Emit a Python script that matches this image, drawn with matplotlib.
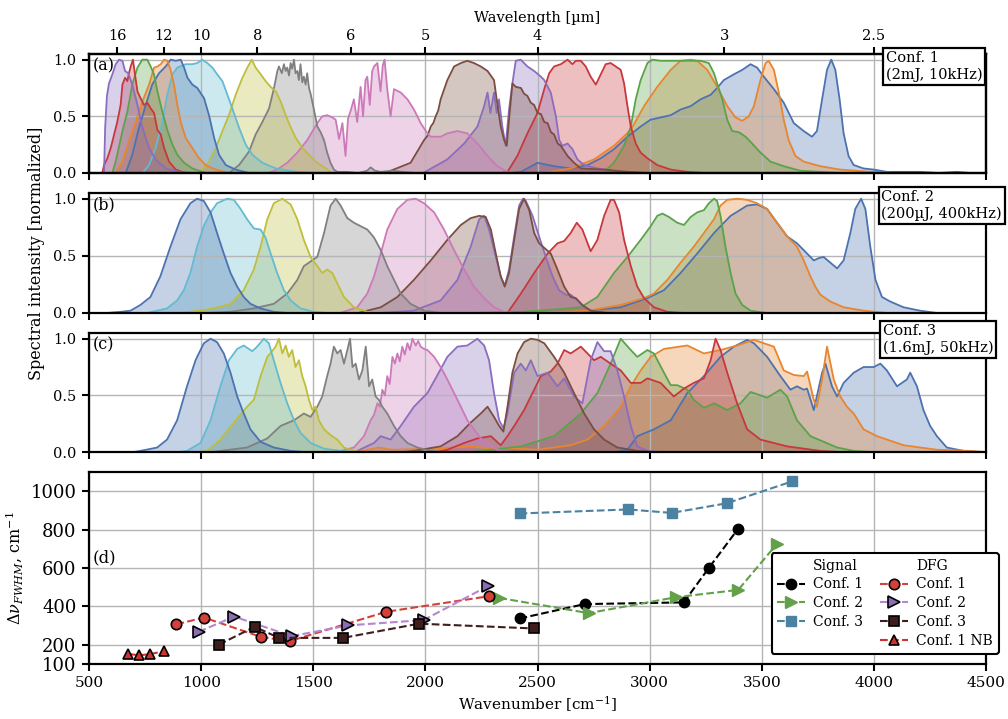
import matplotlib
matplotlib.use('Agg')
import matplotlib.pyplot as plt
from matplotlib.lines import Line2D

plt.rcParams['font.family'] = ['DejaVu Serif']
plt.rcParams['mathtext.fontset'] = 'dejavuserif'

# ---------------- Panel (a): Conf. 1 spectra (wavenumber, normalized intensity) -------------
a01_x = [2380, 2426, 2500, 2574, 2648, 2723, 2782, 2841, 2901, 2960, 3004, 3049, 3094, 3138, 3183, 3227, 3272, 3301, 3331, 3375, 3413, 3450, 3479, 3509, 3554, 3598, 3643, 3687, 3724, 3746, 3769, 3791, 3810, 3828, 3847, 3865, 3887, 3910, 3954, 3999, 4058, 4130, 4206, 4290, 4370, 4430, 4500]
a01_y = [0.0, 0.01, 0.09, 0.06, 0.04, 0.07, 0.13, 0.21, 0.32, 0.41, 0.47, 0.49, 0.51, 0.56, 0.59, 0.65, 0.69, 0.75, 0.82, 0.87, 0.91, 0.96, 0.93, 0.85, 0.74, 0.62, 0.44, 0.37, 0.32, 0.37, 0.65, 0.91, 1.0, 0.91, 0.65, 0.35, 0.15, 0.07, 0.04, 0.03, 0.01, 0.01, 0.01, 0.0, 0.01, 0.0, 0.0]
a02_x = [2500, 2559, 2648, 2752, 2841, 2916, 2975, 3034, 3094, 3138, 3183, 3212, 3257, 3301, 3346, 3383, 3413, 3442, 3465, 3494, 3517, 3531, 3554, 3576, 3598, 3620, 3650, 3687, 3761, 3850, 3984, 4100]
a02_y = [0.0, 0.01, 0.04, 0.12, 0.24, 0.38, 0.59, 0.76, 0.91, 0.99, 1.0, 0.99, 0.91, 0.76, 0.59, 0.49, 0.46, 0.5, 0.59, 0.82, 0.97, 0.99, 0.91, 0.71, 0.47, 0.29, 0.15, 0.1, 0.06, 0.03, 0.01, 0.0]
a03_x = [2760, 2797, 2841, 2886, 2916, 2938, 2960, 2990, 3012, 3049, 3094, 3138, 3183, 3227, 3264, 3287, 3301, 3324, 3346, 3368, 3398, 3428, 3457, 3494, 3539, 3598, 3672, 3761, 3850]
a03_y = [0.0, 0.01, 0.09, 0.24, 0.41, 0.65, 0.82, 0.97, 1.0, 0.99, 0.99, 0.99, 0.99, 0.99, 0.97, 0.88, 0.79, 0.65, 0.47, 0.37, 0.36, 0.32, 0.26, 0.18, 0.1, 0.06, 0.02, 0.01, 0.0]
a04_x = [2340, 2366, 2410, 2455, 2500, 2530, 2552, 2574, 2604, 2634, 2656, 2671, 2693, 2715, 2737, 2760, 2782, 2804, 2826, 2849, 2871, 2886, 2901, 2916, 2938, 2960, 2990, 3034, 3094, 3168, 3250]
a04_y = [0.0, 0.01, 0.15, 0.35, 0.53, 0.74, 0.88, 0.94, 0.96, 1.0, 0.96, 0.99, 0.99, 0.94, 0.85, 0.78, 0.87, 0.96, 0.97, 0.94, 0.91, 0.79, 0.59, 0.41, 0.26, 0.18, 0.13, 0.07, 0.03, 0.01, 0.0]
a05_x = [1990, 2098, 2173, 2232, 2262, 2277, 2290, 2306, 2318, 2328, 2343, 2358, 2373, 2388, 2403, 2425, 2455, 2485, 2515, 2530, 2559, 2582, 2597, 2611, 2634, 2656, 2678, 2708, 2767, 2871, 2950]
a05_y = [0.0, 0.12, 0.26, 0.41, 0.59, 0.71, 0.53, 0.71, 0.53, 0.65, 0.41, 0.24, 0.56, 0.79, 0.99, 1.0, 0.94, 0.9, 0.85, 0.82, 0.71, 0.5, 0.29, 0.24, 0.26, 0.21, 0.12, 0.07, 0.04, 0.01, 0.0]
a06_x = [1820, 1934, 1994, 2010, 2024, 2035, 2046, 2057, 2068, 2098, 2128, 2158, 2187, 2217, 2247, 2277, 2306, 2318, 2336, 2351, 2363, 2373, 2388, 2403, 2426, 2440, 2455, 2470, 2485, 2500, 2515, 2530, 2545, 2560, 2574, 2590, 2604, 2634, 2663, 2693, 2797, 2901, 2990]
a06_y = [0.0, 0.09, 0.29, 0.33, 0.41, 0.44, 0.5, 0.55, 0.65, 0.82, 0.94, 0.97, 0.99, 0.97, 0.94, 0.9, 0.82, 0.65, 0.41, 0.29, 0.24, 0.47, 0.79, 0.76, 0.75, 0.7, 0.68, 0.62, 0.6, 0.53, 0.52, 0.45, 0.44, 0.36, 0.34, 0.26, 0.24, 0.15, 0.09, 0.04, 0.03, 0.01, 0.0]
a07_x = [1300, 1339, 1384, 1429, 1473, 1500, 1518, 1540, 1562, 1585, 1600, 1615, 1630, 1644, 1655, 1667, 1681, 1696, 1711, 1722, 1733, 1741, 1752, 1763, 1771, 1786, 1800, 1810, 1818, 1830, 1845, 1860, 1890, 1920, 1949, 1979, 2009, 2024, 2068, 2098, 2143, 2187, 2232, 2277, 2321, 2366, 2420]
a07_y = [0.0, 0.03, 0.09, 0.18, 0.29, 0.38, 0.44, 0.5, 0.51, 0.49, 0.47, 0.3, 0.44, 0.15, 0.48, 0.55, 0.65, 0.45, 0.76, 0.5, 0.82, 0.85, 0.6, 0.9, 0.94, 0.97, 0.72, 0.95, 1.0, 0.74, 0.5, 0.74, 0.71, 0.65, 0.56, 0.44, 0.35, 0.32, 0.32, 0.35, 0.37, 0.35, 0.26, 0.15, 0.06, 0.01, 0.0]
a08_x = [1100, 1124, 1169, 1214, 1243, 1273, 1303, 1325, 1340, 1347, 1360, 1369, 1377, 1384, 1392, 1399, 1406, 1414, 1421, 1429, 1436, 1443, 1451, 1458, 1466, 1473, 1481, 1488, 1503, 1518, 1533, 1548, 1562, 1577, 1592, 1607, 1650, 1700, 1740, 1756, 1775, 1800, 1850, 1900, 1950]
a08_y = [0.0, 0.0, 0.07, 0.19, 0.34, 0.45, 0.57, 0.75, 0.9, 0.94, 0.88, 0.96, 0.9, 0.93, 0.86, 0.97, 0.92, 1.0, 0.88, 0.9, 0.82, 0.96, 0.8, 0.85, 0.78, 0.88, 0.75, 0.7, 0.56, 0.41, 0.36, 0.29, 0.18, 0.09, 0.03, 0.01, 0.01, 0.0, 0.02, 0.05, 0.02, 0.01, 0.02, 0.01, 0.0]
a09_x = [960, 991, 1035, 1065, 1095, 1124, 1154, 1184, 1206, 1226, 1243, 1266, 1288, 1310, 1333, 1355, 1377, 1400, 1422, 1452, 1481, 1511, 1541, 1577, 1600]
a09_y = [0.0, 0.0, 0.1, 0.22, 0.37, 0.51, 0.69, 0.84, 0.93, 1.0, 0.93, 0.87, 0.81, 0.76, 0.72, 0.63, 0.51, 0.4, 0.31, 0.22, 0.16, 0.1, 0.06, 0.01, 0.0]
a10_x = [720, 738, 768, 797, 827, 849, 872, 894, 931, 961, 983, 1005, 1028, 1050, 1072, 1095, 1117, 1139, 1169, 1199, 1229, 1273, 1333, 1422, 1500]
a10_y = [0.0, 0.0, 0.07, 0.22, 0.45, 0.69, 0.87, 0.93, 0.96, 0.96, 0.97, 1.0, 0.97, 0.93, 0.87, 0.81, 0.69, 0.57, 0.4, 0.25, 0.16, 0.09, 0.04, 0.01, 0.0]
a11_x = [650, 664, 693, 723, 753, 782, 812, 842, 864, 887, 909, 924, 939, 961, 983, 1013, 1035, 1058, 1080, 1110, 1154, 1214, 1280]
a11_y = [0.0, 0.0, 0.16, 0.4, 0.6, 0.78, 0.88, 0.94, 1.0, 0.99, 1.0, 0.93, 0.84, 0.78, 0.75, 0.66, 0.51, 0.31, 0.16, 0.07, 0.03, 0.0, 0.0]
a12_x = [600, 619, 649, 678, 708, 738, 768, 790, 805, 820, 835, 849, 864, 879, 894, 909, 931, 961, 991, 1020, 1065, 1124, 1180]
a12_y = [0.0, 0.0, 0.1, 0.28, 0.45, 0.63, 0.78, 0.93, 0.94, 0.96, 1.0, 0.99, 0.91, 0.78, 0.6, 0.45, 0.31, 0.22, 0.13, 0.07, 0.03, 0.0, 0.0]
a13_x = [590, 604, 619, 649, 671, 693, 716, 738, 760, 775, 790, 805, 827, 849, 872, 894, 924, 961, 1020, 1080]
a13_y = [0.0, 0.0, 0.1, 0.37, 0.54, 0.78, 0.93, 1.0, 1.0, 0.94, 0.87, 0.72, 0.54, 0.38, 0.25, 0.16, 0.09, 0.04, 0.0, 0.0]
a14_x = [550, 559, 567, 582, 597, 612, 626, 641, 649, 661, 671, 678, 686, 696, 705, 716, 730, 745, 760, 775, 790, 805, 820, 835, 857, 887, 931]
a14_y = [0.0, 0.0, 0.07, 0.13, 0.22, 0.34, 0.45, 0.6, 0.78, 0.84, 0.81, 0.88, 0.94, 1.0, 0.87, 0.72, 0.66, 0.6, 0.62, 0.57, 0.53, 0.38, 0.34, 0.22, 0.1, 0.03, 0.0]
a15_x = [560, 567, 572, 580, 589, 604, 619, 634, 649, 661, 675, 693, 716, 738, 768, 797, 842, 901, 960]
a15_y = [0.0, 0.0, 0.4, 0.68, 0.79, 0.87, 0.96, 1.0, 0.99, 0.9, 0.88, 0.78, 0.6, 0.4, 0.22, 0.12, 0.04, 0.01, 0.0]

# ---------------- Panel (b): Conf. 2 spectra -------------
b01_x = [2426, 2723, 2871, 2990, 3064, 3138, 3212, 3287, 3361, 3435, 3479, 3524, 3568, 3613, 3657, 3702, 3732, 3754, 3776, 3806, 3836, 3865, 3895, 3917, 3943, 3962, 3984, 4007, 4036, 4073, 4132, 4206, 4281]
b01_y = [0.0, 0.02, 0.05, 0.13, 0.2, 0.35, 0.52, 0.7, 0.85, 0.94, 0.95, 0.91, 0.79, 0.67, 0.61, 0.52, 0.46, 0.48, 0.49, 0.44, 0.39, 0.46, 0.7, 0.91, 1.0, 0.91, 0.58, 0.29, 0.14, 0.1, 0.05, 0.02, 0.0]
b02_x = [2426, 2723, 2871, 2975, 3019, 3079, 3138, 3197, 3242, 3287, 3316, 3346, 3390, 3435, 3479, 3524, 3568, 3613, 3657, 3687, 3717, 3739, 3761, 3806, 3865, 3954, 4058]
b02_y = [0.0, 0.02, 0.07, 0.13, 0.17, 0.29, 0.44, 0.58, 0.7, 0.82, 0.94, 0.99, 1.0, 0.99, 0.96, 0.91, 0.79, 0.67, 0.58, 0.46, 0.32, 0.23, 0.16, 0.1, 0.05, 0.02, 0.0]
b03_x = [2200, 2426, 2574, 2693, 2767, 2841, 2901, 2960, 3005, 3034, 3057, 3086, 3123, 3153, 3183, 3212, 3242, 3264, 3287, 3301, 3316, 3338, 3361, 3383, 3413, 3450, 3524]
b03_y = [0.0, 0.01, 0.03, 0.05, 0.14, 0.35, 0.49, 0.64, 0.76, 0.85, 0.87, 0.84, 0.79, 0.77, 0.84, 0.88, 0.9, 0.96, 1.0, 0.98, 0.85, 0.58, 0.35, 0.17, 0.07, 0.02, 0.0]
b04_x = [2340, 2366, 2426, 2485, 2545, 2589, 2619, 2648, 2675, 2700, 2737, 2767, 2797, 2826, 2841, 2864, 2886, 2916, 2945, 2975, 3019, 3079, 3150]
b04_y = [0.0, 0.0, 0.17, 0.35, 0.52, 0.61, 0.63, 0.7, 0.79, 0.73, 0.54, 0.64, 0.85, 0.99, 0.99, 0.88, 0.64, 0.41, 0.23, 0.13, 0.05, 0.01, 0.0]
b05_x = [1801, 1949, 2068, 2143, 2202, 2240, 2262, 2284, 2314, 2336, 2354, 2373, 2396, 2418, 2435, 2448, 2478, 2507, 2537, 2567, 2596, 2626, 2648, 2678, 2708, 2752, 2800]
b05_y = [0.0, 0.02, 0.11, 0.29, 0.58, 0.82, 0.85, 0.73, 0.49, 0.32, 0.24, 0.38, 0.67, 0.94, 1.0, 0.98, 0.85, 0.67, 0.49, 0.32, 0.2, 0.16, 0.16, 0.11, 0.05, 0.01, 0.0]
b06_x = [1700, 1801, 1875, 1949, 2024, 2098, 2158, 2202, 2240, 2269, 2292, 2314, 2336, 2354, 2373, 2396, 2418, 2440, 2463, 2485, 2507, 2530, 2559, 2589, 2619, 2648, 2671, 2700, 2737, 2812]
b06_y = [0.0, 0.05, 0.14, 0.29, 0.46, 0.64, 0.77, 0.83, 0.85, 0.84, 0.73, 0.52, 0.32, 0.23, 0.35, 0.64, 0.91, 1.0, 0.9, 0.7, 0.61, 0.57, 0.52, 0.38, 0.23, 0.14, 0.13, 0.07, 0.02, 0.0]
b07_x = [1620, 1696, 1741, 1771, 1801, 1830, 1875, 1920, 1957, 1994, 2039, 2083, 2128, 2173, 2217, 2262, 2306, 2351, 2400]
b07_y = [0.0, 0.05, 0.17, 0.32, 0.52, 0.73, 0.91, 0.99, 1.0, 0.96, 0.88, 0.73, 0.55, 0.38, 0.23, 0.13, 0.05, 0.01, 0.0]
b08_x = [1027, 1131, 1235, 1324, 1384, 1429, 1458, 1488, 1518, 1548, 1577, 1600, 1622, 1652, 1681, 1711, 1741, 1771, 1801, 1830, 1860, 1890, 1934, 1994, 2068]
b08_y = [0.0, 0.01, 0.04, 0.08, 0.17, 0.29, 0.41, 0.45, 0.49, 0.7, 0.94, 1.0, 0.94, 0.83, 0.79, 0.76, 0.73, 0.66, 0.55, 0.41, 0.29, 0.17, 0.08, 0.02, 0.0]
b09_x = [900, 952, 1057, 1131, 1190, 1235, 1265, 1295, 1324, 1362, 1399, 1429, 1458, 1488, 1518, 1540, 1562, 1585, 1607, 1637, 1681, 1741, 1830]
b09_y = [0.0, 0.01, 0.04, 0.08, 0.2, 0.38, 0.58, 0.82, 0.96, 1.0, 0.95, 0.82, 0.64, 0.49, 0.41, 0.35, 0.38, 0.35, 0.26, 0.14, 0.05, 0.01, 0.0]
b10_x = [759, 848, 893, 923, 952, 982, 1012, 1042, 1071, 1116, 1146, 1176, 1205, 1235, 1265, 1287, 1310, 1339, 1369, 1399, 1443, 1503, 1562]
b10_y = [0.0, 0.04, 0.11, 0.2, 0.35, 0.58, 0.76, 0.88, 0.96, 1.0, 0.99, 0.91, 0.82, 0.74, 0.73, 0.66, 0.52, 0.35, 0.2, 0.11, 0.04, 0.01, 0.0]
b11_x = [580, 640, 685, 729, 774, 818, 863, 908, 952, 982, 1012, 1042, 1071, 1101, 1131, 1161, 1190, 1220, 1265, 1324, 1384]
b11_y = [0.0, 0.01, 0.02, 0.07, 0.14, 0.32, 0.58, 0.82, 0.96, 1.0, 0.98, 0.88, 0.7, 0.52, 0.35, 0.23, 0.14, 0.08, 0.04, 0.01, 0.0]

# ---------------- Panel (c): Conf. 3 spectra -------------
c01_x = [2850, 2901, 2945, 3019, 3094, 3168, 3242, 3316, 3376, 3435, 3465, 3524, 3583, 3628, 3657, 3687, 3702, 3732, 3769, 3784, 3813, 3836, 3865, 3910, 3954, 3999, 4029, 4058, 4103, 4147, 4162, 4192, 4221, 4251, 4281, 4325, 4400, 4460]
c01_y = [0.0, 0.02, 0.14, 0.2, 0.28, 0.52, 0.67, 0.84, 0.93, 0.99, 0.96, 0.84, 0.67, 0.55, 0.58, 0.55, 0.56, 0.37, 0.7, 0.78, 0.58, 0.49, 0.61, 0.7, 0.75, 0.75, 0.78, 0.72, 0.58, 0.64, 0.7, 0.58, 0.37, 0.23, 0.14, 0.04, 0.01, 0.0]
c02_x = [1700, 1790, 1850, 2050, 2200, 2300, 2400, 2500, 2648, 2723, 2797, 2871, 2916, 2960, 3005, 3064, 3168, 3242, 3316, 3390, 3465, 3494, 3554, 3598, 3643, 3687, 3702, 3732, 3746, 3769, 3791, 3821, 3850, 3880, 3910, 3954, 4014, 4132, 4281, 4429, 4500]
c02_y = [0.0, 0.04, 0.02, 0.03, 0.05, 0.03, 0.03, 0.02, 0.06, 0.11, 0.23, 0.4, 0.58, 0.72, 0.84, 0.91, 0.94, 0.87, 0.9, 0.94, 0.99, 0.97, 0.93, 0.72, 0.68, 0.67, 0.71, 0.46, 0.4, 0.64, 0.93, 0.64, 0.49, 0.4, 0.34, 0.2, 0.14, 0.06, 0.02, 0.01, 0.0]
c03_x = [2200, 2426, 2574, 2693, 2767, 2826, 2871, 2916, 2945, 2990, 3019, 3064, 3094, 3123, 3168, 3197, 3242, 3287, 3346, 3405, 3450, 3524, 3583, 3613, 3657, 3717, 3836, 3910, 3990]
c03_y = [0.0, 0.05, 0.14, 0.34, 0.52, 0.78, 1.0, 0.9, 0.84, 0.9, 0.87, 0.7, 0.59, 0.59, 0.55, 0.46, 0.39, 0.43, 0.37, 0.43, 0.53, 0.48, 0.55, 0.49, 0.28, 0.14, 0.04, 0.01, 0.0]
c04_x = [2050, 2098, 2173, 2232, 2292, 2336, 2366, 2396, 2440, 2470, 2515, 2559, 2589, 2619, 2648, 2693, 2723, 2752, 2782, 2826, 2871, 2916, 2960, 2990, 3049, 3108, 3153, 3197, 3242, 3272, 3294, 3316, 3346, 3390, 3435, 3494, 3613, 3761, 3850]
c04_y = [0.0, 0.02, 0.08, 0.12, 0.14, 0.06, 0.14, 0.23, 0.37, 0.49, 0.67, 0.71, 0.78, 0.9, 0.87, 0.93, 0.87, 0.81, 0.84, 0.78, 0.72, 0.61, 0.61, 0.65, 0.61, 0.49, 0.56, 0.61, 0.65, 0.81, 1.0, 0.9, 0.7, 0.43, 0.2, 0.11, 0.05, 0.01, 0.0]
c05_x = [1650, 1696, 1771, 1801, 1845, 1890, 1949, 2009, 2054, 2098, 2143, 2187, 2232, 2262, 2284, 2306, 2329, 2348, 2366, 2396, 2425, 2448, 2470, 2500, 2545, 2589, 2619, 2663, 2700, 2737, 2767, 2797, 2826, 2856, 2886, 2916, 2945, 2990, 3050]
c05_y = [0.0, 0.01, 0.08, 0.14, 0.11, 0.23, 0.4, 0.52, 0.68, 0.84, 0.93, 0.94, 1.0, 0.94, 0.81, 0.52, 0.28, 0.21, 0.34, 0.7, 0.78, 0.72, 0.81, 0.67, 0.7, 0.58, 0.65, 0.49, 0.43, 0.81, 0.97, 0.89, 0.89, 0.72, 0.49, 0.23, 0.05, 0.01, 0.0]
c06_x = [1900, 1949, 2068, 2143, 2202, 2247, 2277, 2306, 2329, 2348, 2366, 2388, 2411, 2440, 2470, 2500, 2530, 2574, 2619, 2663, 2708, 2752, 2797, 2856, 2945, 3020]
c06_y = [0.0, 0.01, 0.05, 0.14, 0.26, 0.34, 0.4, 0.31, 0.23, 0.18, 0.4, 0.7, 0.87, 0.97, 1.0, 0.99, 0.96, 0.84, 0.7, 0.52, 0.34, 0.2, 0.11, 0.04, 0.01, 0.0]
c07_x = [1600, 1622, 1681, 1726, 1756, 1771, 1786, 1797, 1808, 1819, 1830, 1841, 1853, 1864, 1875, 1886, 1897, 1908, 1920, 1931, 1942, 1957, 1968, 1979, 1994, 2009, 2039, 2068, 2098, 2128, 2158, 2187, 2217, 2247, 2292, 2336, 2400]
c07_y = [0.0, 0.01, 0.04, 0.14, 0.28, 0.33, 0.43, 0.4, 0.55, 0.5, 0.67, 0.6, 0.84, 0.78, 0.87, 0.8, 0.93, 0.86, 0.96, 0.9, 1.0, 0.94, 0.98, 0.93, 0.91, 0.9, 0.84, 0.75, 0.64, 0.52, 0.4, 0.28, 0.2, 0.12, 0.05, 0.01, 0.0]
c08_x = [1050, 1086, 1205, 1295, 1354, 1414, 1458, 1488, 1518, 1540, 1562, 1577, 1592, 1607, 1622, 1637, 1652, 1664, 1675, 1689, 1704, 1719, 1734, 1749, 1763, 1778, 1793, 1808, 1830, 1860, 1890, 1920, 1964, 2024, 2080]
c08_y = [0.0, 0.01, 0.04, 0.12, 0.23, 0.28, 0.34, 0.31, 0.4, 0.49, 0.67, 0.78, 0.93, 0.87, 0.9, 0.78, 0.9, 1.0, 0.75, 0.78, 0.64, 0.72, 0.93, 0.58, 0.64, 0.49, 0.46, 0.4, 0.34, 0.23, 0.14, 0.08, 0.04, 0.01, 0.0]
c09_x = [1000, 1027, 1086, 1146, 1205, 1235, 1265, 1295, 1317, 1332, 1347, 1362, 1377, 1391, 1406, 1421, 1436, 1451, 1466, 1481, 1496, 1510, 1525, 1548, 1577, 1607, 1637, 1681, 1720]
c09_y = [0.0, 0.01, 0.11, 0.26, 0.4, 0.46, 0.67, 0.84, 0.89, 0.93, 1.0, 0.87, 0.94, 0.84, 0.9, 0.75, 0.81, 0.67, 0.58, 0.46, 0.37, 0.4, 0.28, 0.2, 0.15, 0.11, 0.04, 0.01, 0.0]
c10_x = [900, 937, 997, 1042, 1086, 1124, 1161, 1190, 1228, 1250, 1280, 1302, 1324, 1354, 1384, 1414, 1443, 1488, 1548, 1622, 1680]
c10_y = [0.0, 0.01, 0.08, 0.28, 0.58, 0.81, 0.91, 0.94, 0.89, 0.93, 1.0, 0.96, 0.81, 0.61, 0.43, 0.28, 0.17, 0.08, 0.03, 0.01, 0.0]
c11_x = [700, 729, 804, 848, 893, 937, 975, 1012, 1042, 1071, 1101, 1131, 1161, 1190, 1220, 1265, 1324, 1399, 1460]
c11_y = [0.0, 0.01, 0.04, 0.11, 0.28, 0.58, 0.81, 0.96, 1.0, 0.97, 0.87, 0.7, 0.49, 0.34, 0.2, 0.09, 0.04, 0.01, 0.0]

# ---------------- Panel (d): bandwidth (FWHM, cm^-1) -------------
sig1_x = [2420, 2710, 3152, 3265, 3395]
sig1_y = [337, 412, 421, 602, 805]
sig2_x = [2330, 2728, 3118, 3395, 3568]
sig2_y = [444, 365, 448, 486, 726]
sig3_x = [2420, 2905, 3098, 3343, 3635]
sig3_y = [884, 905, 887, 937, 1051]
dfg1_x = [890, 1013, 1267, 1395, 1825, 2283]
dfg1_y = [307, 342, 241, 219, 372, 453]
dfg2_x = [989, 1148, 1403, 1657, 1992, 2278]
dfg2_y = [268, 347, 245, 301, 329, 505]
dfg3_x = [1079, 1239, 1347, 1633, 1971, 2485]
dfg3_y = [201, 294, 236, 236, 310, 285]
nb_x = [675, 723, 774, 833]
nb_y = [153, 145, 152, 166]

wl_ticks = [16, 12, 10, 8, 6, 5, 4, 3, 2.5]
wl_labels = ['16', '12', '10', '8', '6', '5', '4', '3', '2.5']
conf_labels = ['Conf. 1\n(2mJ, 10kHz)', 'Conf. 2\n(200µJ, 400kHz)', 'Conf. 3\n(1.6mJ, 50kHz)']
panel_labels = ['(a)', '(b)', '(c)', '(d)']

spectraA = [(a01_x, a01_y), (a02_x, a02_y), (a03_x, a03_y), (a04_x, a04_y), (a05_x, a05_y),
            (a06_x, a06_y), (a07_x, a07_y), (a08_x, a08_y), (a09_x, a09_y), (a10_x, a10_y),
            (a11_x, a11_y), (a12_x, a12_y), (a13_x, a13_y), (a14_x, a14_y), (a15_x, a15_y)]
spectraB = [(b01_x, b01_y), (b02_x, b02_y), (b03_x, b03_y), (b04_x, b04_y), (b05_x, b05_y),
            (b06_x, b06_y), (b07_x, b07_y), (b08_x, b08_y), (b09_x, b09_y), (b10_x, b10_y),
            (b11_x, b11_y)]
spectraC = [(c01_x, c01_y), (c02_x, c02_y), (c03_x, c03_y), (c04_x, c04_y), (c05_x, c05_y),
            (c06_x, c06_y), (c07_x, c07_y), (c08_x, c08_y), (c09_x, c09_y), (c10_x, c10_y),
            (c11_x, c11_y)]

CYCLE = ['#4C72B0', '#E8852F', '#5BA249', '#C7383C', '#8B6DBE',
         '#7A4E40', '#CC79B9', '#808080', '#BEBE3C', '#62BBD0']

fig = plt.figure(figsize=(10.08, 7.19), dpi=100)
L, W = 0.0883, 0.8899
axA = fig.add_axes([L, 0.7594, W, 0.1655])
axB = fig.add_axes([L, 0.5647, W, 0.1669])
axC = fig.add_axes([L, 0.3713, W, 0.1655])
axD = fig.add_axes([L, 0.0765, W, 0.2670])


def style(ax):
    for s in ax.spines.values():
        s.set_linewidth(1.6)
    ax.grid(True, color='#b5b5b5', lw=1.0)
    ax.tick_params(direction='out', length=5, width=1.5, pad=4)
    ax.set_xlim(500, 4500)
    ax.set_xticks(range(500, 4501, 500))


for ax, spectra, lab in zip([axA, axB, axC], [spectraA, spectraB, spectraC], panel_labels[:3]):
    for i, (x, y) in enumerate(spectra):
        col = CYCLE[i % 10]
        ax.fill_between(x, y, color=col, alpha=0.32, lw=0)
        ax.plot(x, y, color=col, lw=1.3)
    style(ax)
    ax.set_ylim(0, 1.05)
    ax.set_yticks([0.0, 0.5, 1.0])
    ax.set_yticklabels(['0.0', '0.5', '1.0'], fontsize=10.5)
    ax.tick_params(axis='x', labelbottom=False)
    ax.text(0.004, 0.975, lab, transform=ax.transAxes, ha='left', va='top', fontsize=11.5)

# top wavelength axis
axT = axA.twiny()
axT.set_xlim(500, 4500)
axT.set_xticks([10000.0 / w for w in wl_ticks])
axT.set_xticklabels(wl_labels, fontsize=10.5)
axT.tick_params(direction='out', length=5, width=1.5, pad=3)
for s in axT.spines.values():
    s.set_linewidth(1.6)
axT.set_xlabel('Wavelength [µm]', fontsize=10.5, labelpad=5)

# configuration boxes
box_pos = [(0.8785, 0.929), (0.8745, 0.7357), (0.8755, 0.549)]
for (bx, by), txt in zip(box_pos, conf_labels):
    fig.text(bx, by, txt, ha='left', va='top', fontsize=10.5,
             bbox=dict(boxstyle='square,pad=0.2', fc='white', ec='black', lw=1.6))

fig.text(0.036, 0.648, 'Spectral intensity [normalized]', rotation=90,
         ha='center', va='center', fontsize=11.5)

# panel (d)
style(axD)
axD.set_ylim(100, 1100)
axD.set_yticks([100, 200, 400, 600, 800, 1000])
axD.tick_params(axis='y', labelsize=13)
axD.tick_params(axis='x', labelsize=11)
axD.set_xlabel('Wavenumber [cm$^{-1}$]', fontsize=11, labelpad=3)
axD.set_ylabel(r'$\Delta\nu_{FWHM}$, cm$^{-1}$', fontsize=11.5, labelpad=4)
axD.text(0.004, 0.555, '(d)', transform=axD.transAxes, ha='left', va='center', fontsize=12)

ms = 7.5
h1, = axD.plot(sig1_x, sig1_y, '--', color='black', marker='o', ms=ms, lw=1.5, label='Conf. 1')
h2, = axD.plot(sig2_x, sig2_y, '--', color='#62A04A', marker='>', ms=ms + 1.5, lw=1.5, label='Conf. 2')
h3, = axD.plot(sig3_x, sig3_y, '--', color='#4B81A1', marker='s', ms=ms, lw=1.5, label='Conf. 3')
d1, = axD.plot(dfg1_x, dfg1_y, '--', color='#D6403A', marker='o', ms=ms, mec='black', mew=1.2,
               mfc='#D6403A', lw=1.5, label='Conf. 1')
d2, = axD.plot(dfg2_x, dfg2_y, '--', color='#B487D0', marker='>', ms=ms + 1.5, mec='black', mew=1.2,
               mfc='#8C6CB4', lw=1.5, label='Conf. 2')
d3, = axD.plot(dfg3_x, dfg3_y, '--', color='#3F1D1D', marker='s', ms=ms, mec='black', mew=1.2,
               mfc='#3F1D1D', lw=1.5, label='Conf. 3')
d4, = axD.plot(nb_x, nb_y, '--', color='#D03232', marker='^', ms=ms, mec='black', mew=1.2,
               mfc='#D03232', lw=1.5, label='Conf. 1 NB')

blank = Line2D([], [], linestyle='none', marker=None)
handles = [blank, h1, h2, h3, blank, blank, d1, d2, d3, d4]
labels = ['Signal', 'Conf. 1', 'Conf. 2', 'Conf. 3', '', 'DFG', 'Conf. 1', 'Conf. 2', 'Conf. 3', 'Conf. 1 NB']
leg = axD.legend(handles, labels, ncol=2, loc='upper left', bbox_to_anchor=(0.761, 0.578),
                 borderaxespad=0, fontsize=10, framealpha=1, edgecolor='black',
                 labelspacing=0.35, columnspacing=1.2, handletextpad=0.6)
leg.get_frame().set_linewidth(1.5)

fig.savefig('out.png', dpi=100)
